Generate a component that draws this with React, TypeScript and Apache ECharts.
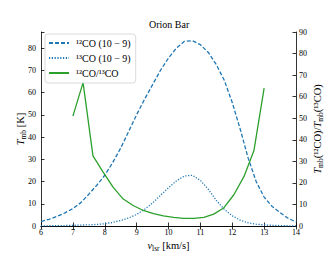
import React, { useEffect, useRef } from "react";
import * as echarts from "echarts";

const velocity = [6.0, 6.25, 6.5, 6.75, 7.0, 7.25, 7.5, 7.75, 8.0, 8.25, 8.5, 8.75, 9.0, 9.25, 9.5, 9.75, 10.0, 10.25, 10.5, 10.75, 11.0, 11.25, 11.5, 11.75, 12.0, 12.25, 12.5, 12.75, 13.0, 13.25, 13.5, 13.75, 14.0];
const co12 = [2.0, 3.0, 4.3, 5.9, 7.8, 10.5, 14.3, 18.3, 22.8, 28.5, 35.0, 42.5, 50.0, 57.0, 63.5, 70.0, 75.5, 80.0, 83.0, 83.3, 81.5, 78.0, 72.5, 65.5, 55.5, 43.5, 30.5, 20.0, 13.0, 8.8, 6.0, 3.5, 1.8];
const co13 = [0.1, 0.1, 0.2, 0.2, 0.3, 0.4, 0.5, 0.7, 1.0, 1.6, 2.5, 3.6, 5.2, 7.5, 10.3, 13.8, 17.2, 20.3, 22.5, 22.8, 20.5, 16.5, 11.5, 7.5, 4.6, 2.6, 1.4, 0.8, 0.5, 0.3, 0.2, 0.1, 0.1];
const ratioVelocity = [7.0, 7.32, 7.63, 7.95, 8.26, 8.58, 8.89, 9.21, 9.53, 9.84, 10.16, 10.47, 10.79, 11.11, 11.42, 11.74, 12.05, 12.37, 12.68, 13.0];
const ratio = [51, 66.5, 32.5, 25, 18, 12.5, 9.5, 7.2, 5.7, 4.7, 4.0, 3.5, 3.5, 4.0, 5.5, 8.5, 14.5, 23, 35, 64];

const seriesNames = ["¹²CO (10 − 9)", "¹³CO (10 − 9)", "¹²CO/¹³CO"];
const titleText = "Orion Bar";

const FONT = "Liberation Serif";

export default function App() {
  const ref = useRef<HTMLDivElement>(null);
  useEffect(() => {
    if (!ref.current) return;
    const chart = echarts.init(ref.current, null, { renderer: "svg" });
    const rich = {
      i: { fontFamily: FONT, fontStyle: "italic", fontSize: 10.5, color: "#000" },
      s: { fontFamily: FONT, fontSize: 7.5, color: "#000", verticalAlign: "bottom", lineHeight: 14 },
      n: { fontFamily: FONT, fontSize: 10.5, color: "#000" },
    };
    const tickLabel = { fontFamily: FONT, fontSize: 8, color: "#000" };
    const axisLine = { show: true, lineStyle: { color: "#000", width: 0.8 } };
    const axisTick = { show: true, inside: true, length: 3.5, lineStyle: { color: "#000", width: 0.8 } };
    const blue = "#1f77b4";
    const green = "#2ca02c";
    chart.setOption({
      animation: false,
      backgroundColor: "#fff",
      title: {
        text: titleText,
        left: 149,
        top: 19,
        padding: 0,
        textStyle: { fontFamily: FONT, fontSize: 10, fontWeight: "normal", color: "#000" },
      },
      grid: { left: 41, right: 34, top: 32, bottom: 33 },
      legend: {
        orient: "vertical",
        left: 45,
        top: 34,
        padding: [3, 5, 4, 3],
        itemWidth: 20,
        itemHeight: 10,
        itemGap: 3,
        borderColor: "#d0d0d0",
        borderWidth: 0.8,
        borderRadius: 3,
        backgroundColor: "rgba(255,255,255,0.85)",
        itemStyle: { opacity: 0, borderWidth: 0 },
        textStyle: { fontFamily: FONT, fontSize: 10, color: "#000", lineHeight: 12, padding: [0, 0, 0, 2] },
        data: seriesNames,
      },
      xAxis: [
        {
          type: "value",
          min: 6,
          max: 14,
          interval: 1,
          position: "bottom",
          name: "{i|v}{s|lsr}{n| [km/s]}",
          nameLocation: "middle",
          nameGap: 12,
          nameMoveOverlap: false,
          nameTextStyle: { rich },
          axisLine,
          axisTick,
          axisLabel: { ...tickLabel, margin: 2 },
          splitLine: { show: false },
        },
        {
          type: "value",
          min: 6,
          max: 14,
          interval: 1,
          position: "top",
          axisLine,
          axisTick,
          axisLabel: { show: false },
          splitLine: { show: false },
        },
      ],
      yAxis: [
        {
          type: "value",
          min: 0,
          max: 87.2,
          interval: 10,
          position: "left",
          name: "{i|T}{s|mb}{n| [K]}",
          nameLocation: "middle",
          nameRotate: 90,
          nameGap: 14,
          nameMoveOverlap: false,
          nameTextStyle: { rich },
          axisLine,
          axisTick,
          axisLabel: {
            ...tickLabel,
            margin: 5,
            formatter: (v: number) => (Math.abs(v % 10) < 1e-6 ? String(v) : ""),
          },
          splitLine: { show: false },
        },
        {
          type: "value",
          min: 0,
          max: 90,
          interval: 10,
          position: "right",
          name: "{i|T}{s|mb}{n|(¹²CO)/}{i|T}{s|mb}{n|(¹³CO)}",
          nameLocation: "middle",
          nameRotate: 90,
          nameGap: 14,
          nameMoveOverlap: false,
          nameTextStyle: { rich },
          axisLine,
          axisTick,
          axisLabel: { ...tickLabel, margin: 3 },
          splitLine: { show: false },
        },
      ],
      series: [
        {
          name: seriesNames[0],
          type: "line",
          xAxisIndex: 0,
          yAxisIndex: 0,
          showSymbol: false,
          symbol: "none",
          data: velocity.map((v, i) => [v, co12[i]]),
          lineStyle: { color: blue, width: 1.3, type: [4, 2] },
          itemStyle: { color: blue },
        },
        {
          name: seriesNames[1],
          type: "line",
          xAxisIndex: 0,
          yAxisIndex: 0,
          showSymbol: false,
          symbol: "none",
          data: velocity.map((v, i) => [v, co13[i]]),
          lineStyle: { color: blue, width: 1.3, type: [1.2, 1.6] },
          itemStyle: { color: blue },
        },
        {
          name: seriesNames[2],
          type: "line",
          xAxisIndex: 0,
          yAxisIndex: 1,
          showSymbol: false,
          symbol: "none",
          data: ratioVelocity.map((v, i) => [v, ratio[i]]),
          lineStyle: { color: green, width: 1.3 },
          itemStyle: { color: green },
        },
      ],
    });
    return () => chart.dispose();
  }, []);
  return (
    <div
      ref={ref}
      style={{ position: "fixed", left: 0, top: 0, width: 332, height: 259, background: "#fff" }}
    />
  );
}
